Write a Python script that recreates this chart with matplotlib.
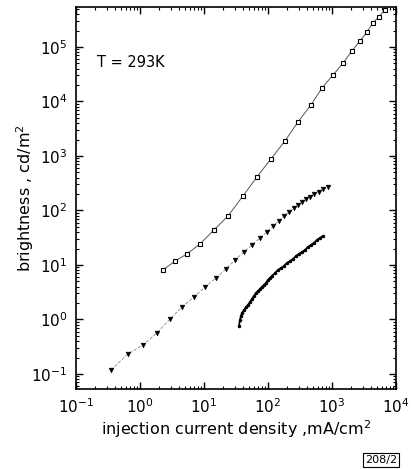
import matplotlib
matplotlib.use("Agg")
import matplotlib.pyplot as plt
from matplotlib.ticker import LogLocator, NullFormatter

plt.rcParams['font.family'] = ['DejaVu Sans']
plt.rcParams['mathtext.fontset'] = 'dejavusans'

# Series 1: open squares
sq_x = [2.29, 3.52, 5.42, 8.66, 14.3, 23.7, 40.7, 67.3, 111, 184, 294, 470, 698,
        1040, 1490, 2050, 2740, 3520, 4370, 5420, 6730]
sq_y = [8.09, 11.8, 15.9, 24.3, 43.9, 79, 185, 412, 881, 1880, 4210, 8630, 1.77e4,
        3.06e4, 5.08e4, 8.45e4, 1.29e5, 1.88e5, 2.76e5, 3.6e5, 4.8e5]

# Series 2: filled down-triangles
tr_x = [0.352, 0.65, 1.11, 1.84, 2.94, 4.53, 6.98, 10.4, 15.4, 22.1, 30.5, 42.2,
        56.2, 75.0, 96.4, 120, 149, 178, 213, 255, 294, 340, 393, 453, 523, 627,
        723, 866]
tr_y = [0.118, 0.233, 0.34, 0.565, 1.02, 1.69, 2.59, 3.95, 5.77, 8.45, 12.4, 17.3,
        23.3, 31.3, 40.3, 52.0, 64.1, 79.2, 93.8, 111, 126, 143, 163, 177, 201, 218,
        248, 270]

# Series 3: small dots
dt_x = [35.2, 36.5, 37.8, 39.3, 42.2, 45.3, 48.7, 52.3, 56.2, 60.4, 64.9, 69.8,
        75.0, 80.6, 86.6, 93.1, 100, 107, 115, 129, 143, 160, 178, 198, 221, 246,
        274, 305, 340, 378, 422, 470, 523, 583, 649, 723]
dt_y = [0.76, 0.98, 1.16, 1.32, 1.49, 1.69, 1.85, 2.09, 2.38, 2.70, 3.06, 3.33,
        3.63, 3.95, 4.30, 4.68, 5.31, 5.77, 6.28, 7.13, 8.09, 8.81, 9.59, 10.9,
        11.8, 12.9, 14.6, 15.9, 17.3, 18.8, 21.4, 23.3, 25.3, 28.8, 31.3, 34.0]

x_ticks = [1e-1, 1e0, 1e1, 1e2, 1e3, 1e4]
x_labels = [r'$10^{-1}$', r'$10^{0}$', r'$10^{1}$', r'$10^{2}$', r'$10^{3}$', r'$10^{4}$']
y_ticks = [1e-1, 1e0, 1e1, 1e2, 1e3, 1e4, 1e5]
y_labels = [r'$10^{-1}$', r'$10^{0}$', r'$10^{1}$', r'$10^{2}$', r'$10^{3}$', r'$10^{4}$', r'$10^{5}$']

fig = plt.figure(figsize=(4.11, 4.69), dpi=100)
ax = fig.add_axes([76/411, 80/469, 320/411, 382/469])

ax.plot(sq_x, sq_y, '-', color='#555555', lw=0.7, marker='s', ms=3.2,
        mfc='white', mec='black', mew=0.8)
ax.plot(tr_x, tr_y, '--', color='#888888', lw=0.6, dashes=(4, 2), marker='v', ms=3.4,
        mfc='black', mec='black', mew=0.4)
ax.plot(dt_x, dt_y, '-', color='black', lw=1.3, marker='o', ms=1.5,
        mfc='black', mec='black')

ax.set_xscale('log')
ax.set_yscale('log')
ax.set_xlim(1e-1, 1e4)
ax.set_ylim(0.053, 5.4e5)

ax.set_xticks(x_ticks)
ax.set_xticklabels(x_labels)
ax.set_yticks(y_ticks)
ax.set_yticklabels(y_labels)
ax.xaxis.set_minor_locator(LogLocator(base=10, subs=range(2, 10), numticks=20))
ax.yaxis.set_minor_locator(LogLocator(base=10, subs=range(2, 10), numticks=20))
ax.xaxis.set_minor_formatter(NullFormatter())
ax.yaxis.set_minor_formatter(NullFormatter())

ax.tick_params(which='both', direction='in', top=True, right=True, labelsize=11, colors='black')
ax.tick_params(which='major', length=5, width=1.0, pad=6)
ax.tick_params(which='minor', length=2.5, width=0.8)
for s in ax.spines.values():
    s.set_linewidth(1.2)

ax.set_xlabel(r'injection current density ,mA/cm$^2$', fontsize=11.5)
ax.set_ylabel(r'brightness , cd/m$^2$', fontsize=11.5)
ax.xaxis.set_label_coords(0.5, -0.076)
ax.yaxis.set_label_coords(-0.125, 0.5)

ax.text(0.066, 0.856, 'T = 293K', transform=ax.transAxes, fontsize=10.5,
        ha='left', va='center')

fig.text(381/411, 1 - 460/469, '208/2', fontsize=8, ha='center', va='center',
         bbox=dict(boxstyle='square,pad=0.15', fc='white', ec='black', lw=0.8))

fig.savefig('out.png', dpi=100)
